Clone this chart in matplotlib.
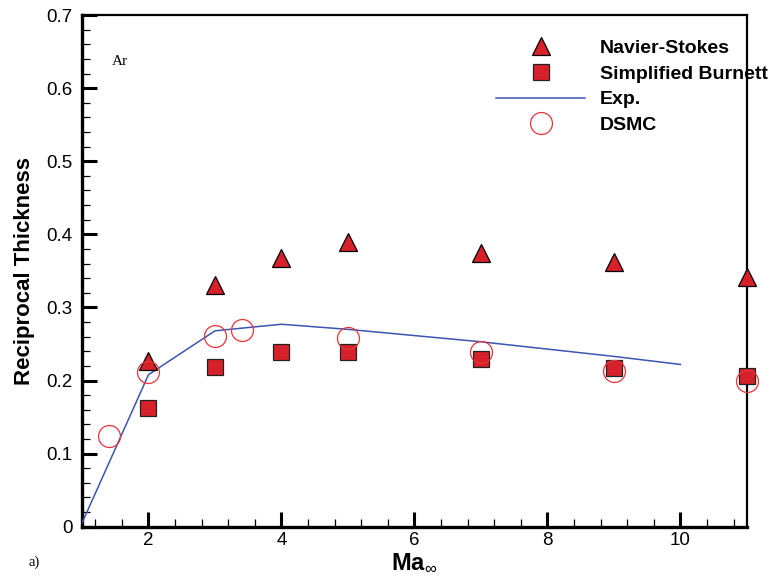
import matplotlib
matplotlib.use("Agg")
import matplotlib.pyplot as plt
from matplotlib.ticker import MultipleLocator

plt.rcParams['font.family'] = ['Liberation Sans', 'DejaVu Sans']
plt.rcParams['mathtext.fontset'] = 'custom'
plt.rcParams['mathtext.rm'] = 'Liberation Sans'
plt.rcParams['mathtext.bf'] = 'Liberation Sans:bold'

# data
ns_ma = [2, 3, 4, 5, 7, 9, 11]
ns_thick = [0.227, 0.331, 0.368, 0.389, 0.374, 0.362, 0.342]

sb_ma = [2, 3, 4, 5, 7, 9, 11]
sb_thick = [0.162, 0.218, 0.239, 0.239, 0.229, 0.217, 0.206]

exp_ma = [1.0, 2.0, 3.0, 4.0, 5.0, 7.0, 9.0, 10.0]
exp_thick = [0.005, 0.208, 0.268, 0.277, 0.270, 0.253, 0.233, 0.222]

dsmc_ma = [1.4, 2.0, 3.0, 3.4, 5.0, 7.0, 9.0, 11.0]
dsmc_thick = [0.124, 0.212, 0.261, 0.269, 0.258, 0.239, 0.213, 0.200]

red = '#d6212a'

fig = plt.figure(figsize=(7.7, 5.79), dpi=100)
ax = fig.add_axes([0.1065, 0.0903, 0.8635, 0.8837])

ax.plot(ns_ma, ns_thick, linestyle='none', marker='^', markersize=13.5,
        markerfacecolor=red, markeredgecolor='black', markeredgewidth=0.9,
        label='Navier-Stokes', clip_on=False, zorder=4)
ax.plot(sb_ma, sb_thick, linestyle='none', marker='s', markersize=11.5,
        markerfacecolor=red, markeredgecolor='#222222', markeredgewidth=0.9,
        label='Simplified Burnett', clip_on=False, zorder=4)
ax.plot(exp_ma, exp_thick, color='#3c55b2', linewidth=1.1, label='Exp.', zorder=3)
ax.plot(dsmc_ma, dsmc_thick, linestyle='none', marker='o', markersize=15.8,
        markerfacecolor='none', markeredgecolor='#e8333b', markeredgewidth=0.9,
        label='DSMC', clip_on=False, zorder=5)

ax.set_xlim(1, 11)
ax.set_ylim(0, 0.7)
ax.set_xticks([2, 4, 6, 8, 10])
ax.set_yticks([0, 0.1, 0.2, 0.3, 0.4, 0.5, 0.6, 0.7])
ax.set_yticklabels(['0', '0.1', '0.2', '0.3', '0.4', '0.5', '0.6', '0.7'])
ax.xaxis.set_minor_locator(MultipleLocator(0.4))
ax.yaxis.set_minor_locator(MultipleLocator(0.02))
ax.tick_params(which='major', direction='in', length=11, width=2.2,
               labelsize=13.5, top=False, right=False)
ax.tick_params(which='minor', direction='in', length=6, width=0.9,
               top=False, right=False)
ax.tick_params(axis='y', which='major', pad=7)
ax.tick_params(axis='x', which='major', pad=4)

ax.spines['left'].set_linewidth(2.4)
ax.spines['bottom'].set_linewidth(2.4)
ax.spines['top'].set_linewidth(1.6)
ax.spines['right'].set_linewidth(1.6)

ax.set_ylabel('Reciprocal Thickness', fontsize=16, fontweight='bold', labelpad=8)
ax.set_xlabel(r'Ma$_{\infty}$', fontsize=17, fontweight='bold', labelpad=1)

ax.text(0.045, 0.902, 'Ar', transform=ax.transAxes, fontsize=11,
        family='Liberation Serif')
fig.text(0.037, 0.023, 'a)', fontsize=10.5, family='Liberation Serif')

leg = ax.legend(loc='upper left', bbox_to_anchor=(0.611, 0.968), frameon=False,
                handlelength=4.6, handletextpad=0.75, labelspacing=0.42,
                numpoints=1, borderaxespad=0,
                prop={'weight': 'bold', 'size': 14})

fig.savefig('out.png', dpi=100)
